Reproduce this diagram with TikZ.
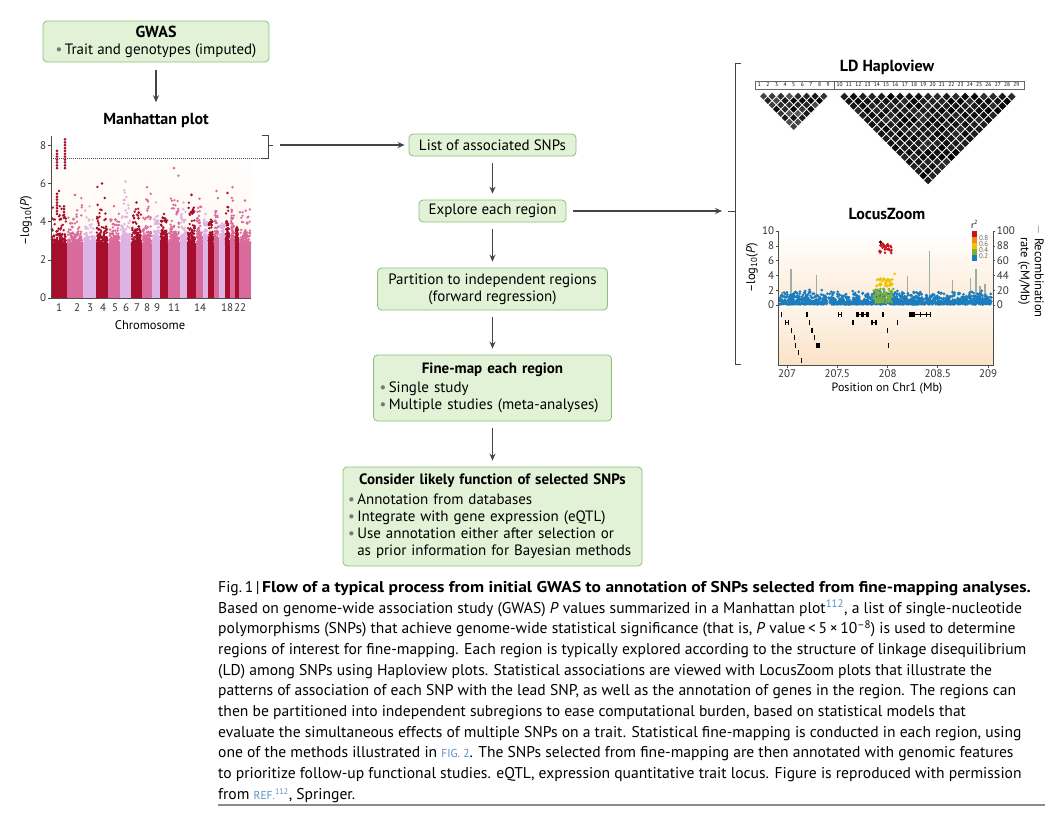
\documentclass[tikz,border=0pt]{standalone}
\usepackage{fontspec}
\setmainfont{PT Sans}
\newfontfamily\capbf{PT Sans}[BoldFeatures={FakeStretch=1.12}]
\usetikzlibrary{arrows.meta}
\definecolor{boxfill}{HTML}{E2F2D6}
\definecolor{boxline}{HTML}{8DBF7C}
\definecolor{arrgray}{HTML}{444444}
\definecolor{mdred}{HTML}{A50F2D}
\definecolor{mpink}{HTML}{D86B9C}
\definecolor{mlav}{HTML}{DDB3E6}
\definecolor{peach}{HTML}{FFF3E8}
\definecolor{lzpeach}{HTML}{FBE2C6}
\definecolor{lzblue}{HTML}{1A7DC0}
\definecolor{lzgreen}{HTML}{7BB031}
\definecolor{lzyellow}{HTML}{F2C200}
\definecolor{lzorange}{HTML}{F08A1C}
\definecolor{lzred}{HTML}{C8141E}
\definecolor{recgray}{HTML}{9AAFA8}
\definecolor{refblue}{HTML}{5B8FC4}
\definecolor{bulgray}{HTML}{777777}
\newcommand\bul{\textcolor{bulgray}{\textbullet}\,}
\tikzset{
  flowbox/.style={draw=boxline, fill=boxfill, rounded corners=4pt, line width=0.8pt,
    inner sep=3pt, font=\fontsize{15}{17}\selectfont},
  arr/.style={draw=arrgray, line width=1.4pt, -{Stealth[length=7pt,width=6pt]}},
  axlab/.style={font=\fontsize{11}{12}\selectfont, text=black!80, inner sep=1.5pt},
  ptitle/.style={font=\bfseries\fontsize{16}{18}\selectfont}
}
\begin{document}
\begin{tikzpicture}[x=1pt, y=-1pt]
  \useasboundingbox (0,0) rectangle (1055,817);
  \fill[white] (0,0) rectangle (1055,817);

  % flow chart
  \node[flowbox, minimum width=226pt, minimum height=41pt, align=center] (gwas) at (156,41.5)
    {{\bfseries\fontsize{16}{17}\selectfont GWAS}\\ \bul Trait and genotypes (imputed)};
  \node[ptitle] (mantitle) at (156,120) {Manhattan plot};
  \node[flowbox, minimum width=167pt, minimum height=22pt] (snps) at (492.5,145) {List of associated SNPs};
  \node[flowbox, minimum width=147pt, minimum height=22pt] (explore) at (492.5,211) {Explore each region};
  \node[flowbox, minimum width=230pt, minimum height=42pt, align=center] (partition) at (492.5,289)
    {Partition to independent regions\\(forward regression)};
  \node[flowbox, minimum width=238pt, minimum height=66pt, inner xsep=6pt, text width=226pt, align=left] (finemap) at (492.5,388)
    {\makebox[226pt]{\bfseries Fine-map each region}\\[2pt] \bul Single study\\ \bul Multiple studies (meta-analyses)};
  \node[flowbox, minimum width=299pt, minimum height=99pt, inner xsep=5pt, text width=289pt, align=left] (consider) at (492.5,516.5)
    {\makebox[289pt]{\bfseries Consider likely function of selected SNPs}\\[3pt]
     \bul Annotation from databases\\
     \bul Integrate with gene expression (eQTL)\\
     \bul Use annotation either after selection or\\
     \phantom{\bul}as prior information for Bayesian methods};

  \draw[arr, shorten <=8pt, shorten >=7pt] (gwas) -- (mantitle);
  \foreach \a/\b in {snps/explore, explore/partition, partition/finemap, finemap/consider}
    \draw[arr, shorten <=7pt, shorten >=6pt] (\a) -- (\b);

  % brackets
  \draw[arrgray, line width=1pt] (262,135) -- (268,135) -- (268,158) -- (262,158);
  \draw[arrgray, line width=1pt] (268,145) -- (273,145);
  \coordinate (manbr) at (273,145);
  \draw[arr, shorten <=7pt, shorten >=4pt] (manbr) -- (snps.west);
  \draw[arrgray, line width=1pt] (741,63) -- (735,63) -- (735,364) -- (741,364);
  \draw[arrgray, line width=1pt] (735,211) -- (728,211);
  \coordinate (lzbr) at (728,211);
  \draw[arr, shorten <=7pt, shorten >=6pt] (explore.east) -- (lzbr);

  % Manhattan plot
  \begin{scope}[shift={(0,298)}, y=19.1pt]
    \shade[top color=white, bottom color=peach] (51,0) rectangle (251,8);
    \pgfmathsetseed{11}
    \foreach \a/\b/\c/\p/\h in {51/67/mdred/5.6/4.1, 67/83/mpink/5.4/3.9, 83/96/mlav/4.8/3.6, 96/108/mdred/6.0/4.0,
        108/120/mpink/4.8/3.8, 120/131/mlav/6.1/4.2, 131/142/mdred/5.0/4.1, 142/152/mpink/5.8/4.1, 152/160/mlav/5.0/3.8,
        160/168/mdred/4.4/4.0, 168/180/mpink/6.8/4.2, 180/187/mlav/5.0/3.9, 187/196/mdred/5.4/4.3, 196/203/mpink/5.2/3.9,
        203/208/mlav/4.4/3.8, 208/214/mdred/4.1/3.8, 214/219/mpink/5.6/3.9, 219/225/mlav/3.9/3.7, 225/230/mdred/5.5/3.8,
        230/235/mpink/5.8/3.9, 235/239/mdred/3.7/3.5, 239/251/mpink/5.1/3.9} {
      \fill[\c] (\a,0) rectangle (\b,2.9);
      \foreach \k in {1,...,110} {
        \pgfmathsetmacro\xx{\a+0.9+rnd*(\b-\a-1.8)}
        \pgfmathsetmacro\yy{2.8+rnd*rnd*(\h-2.8)}
        \fill[\c] (\xx,\yy) circle (1.3pt);
      }
      \foreach \k in {1,...,14} {
        \pgfmathsetmacro\xx{\a+0.9+rnd*(\b-\a-1.8)}
        \pgfmathsetmacro\yy{\h+rnd*rnd*(\p-\h)}
        \fill[\c] (\xx,\yy) circle (1.3pt);
      }
      \fill[\c] ({(\a+\b)/2},\p) circle (1.4pt);
    }
    \foreach \yy in {6.8,6.95,...,7.75} \fill[mdred] (57,\yy) circle (1.5pt);
    \foreach \yy in {6.8,6.95,...,8.35} \fill[mdred] (65,\yy) circle (1.5pt);
    \foreach \yy in {4.4,4.55,...,5.6} \fill[mdred] (57,\yy) circle (1.5pt);
    \foreach \yy in {4.2,4.35,...,4.9} \fill[mdred] (64,\yy) circle (1.5pt);
    \draw[densely dotted, line width=1pt, black!70] (51,7.3) -- (263,7.3);
    \draw[black!70, line width=0.6pt] (51,8.5) -- (51,0) -- (251,0);
    \foreach \t in {0,2,...,8}
      \draw[black!70, line width=0.6pt] (51,\t) -- (48,\t) node[axlab, left] {\t};
  \end{scope}
  \foreach \x/\l in {59/1, 77/2, 90/3, 103/4, 115/5, 126/6, 137/7, 147/8, 157/9, 174/11, 200/14, 227/18, 240/22}
    \node[axlab] at (\x,308) {\l};
  \node[font=\fontsize{12.5}{13}\selectfont] at (150,325) {Chromosome};
  \node[font=\fontsize{12.5}{13}\selectfont, rotate=90] at (26,221) {–log\textsubscript{10}(\textit{P})};

  % LD Haploview
  \node[ptitle] at (887,67) {LD Haploview};
  \draw[black!60, line width=0.4pt] (755,81) rectangle (1024,89);
  \draw[black!60, line width=0.4pt] (834,81) -- (834,89);
  \foreach \k in {1,...,9}
    \node[font=\fontsize{5.5}{5.5}\selectfont, inner sep=0] at ({759.3+8.6*(\k-1)},85) {\k};
  \foreach \k in {10,...,29}
    \node[font=\fontsize{5.5}{5.5}\selectfont, inner sep=0] at ({839.65+9.3*(\k-10)},85) {\k};
  \foreach \i in {1,...,8} {
    \pgfmathtruncatemacro\js{\i+1}
    \foreach \j in {\js,...,9} {
      \pgfmathsetmacro\cx{759.3+8.6*((\i+\j)/2-1)}
      \pgfmathsetmacro\cy{92+(\j-\i)*4.3}
      \pgfmathtruncatemacro\sh{65+35*rnd}
      \filldraw[fill=black!\sh, draw=white, line width=0.7pt]
        (\cx,\cy-4.3) -- (\cx+4.3,\cy) -- (\cx,\cy+4.3) -- (\cx-4.3,\cy) -- cycle;
    }
  }
  \foreach \i in {1,...,19} {
    \pgfmathtruncatemacro\js{\i+1}
    \foreach \j in {\js,...,20} {
      \pgfmathsetmacro\cx{839.65+9.3*((\i+\j)/2-1)}
      \pgfmathsetmacro\cy{92+(\j-\i)*4.65}
      \pgfmathtruncatemacro\sh{82+18*rnd}
      \filldraw[fill=black!\sh, draw=white, line width=0.7pt]
        (\cx,\cy-4.65) -- (\cx+4.65,\cy) -- (\cx,\cy+4.65) -- (\cx-4.65,\cy) -- cycle;
    }
  }

  % LocusZoom
  \node[ptitle] at (887,214) {LocusZoom};
  \begin{scope}[shift={(787,305)}, x=100.5pt, y=7.4pt]
    \shade[top color=white, bottom color=lzpeach!70] (-0.09,0) rectangle (2.05,10);
    \shade[top color=lzpeach!35, bottom color=lzpeach] (-0.09,-0.3) rectangle (2.05,-8.1);
    \foreach \x/\h in {-0.05/1.8, 0.04/4.9, 0.29/4.0, 0.69/1.5, 1.18/1.3, 1.20/3.9, 1.42/7.3,
        1.65/3.4, 1.83/3.7, 1.88/4.9, 1.92/2.6, 1.97/2.9}
      \draw[recgray, line width=1.1pt] (\x,0) -- (\x,\h);
    \foreach \k in {1,...,1300} {
      \pgfmathsetmacro\xx{-0.075+rnd*2.11}
      \pgfmathsetmacro\yy{0.1+rnd*rnd*2.0}
      \fill[lzblue] (\xx,\yy) circle (1.5pt);
    }
    \foreach \k in {1,...,80} {
      \pgfmathsetmacro\xx{0.86+rnd*0.2}
      \pgfmathsetmacro\yy{0.3+rnd*1.9}
      \fill[lzgreen] (\xx,\yy) circle (1.4pt);
    }
    \foreach \k in {1,...,40} {
      \pgfmathsetmacro\xx{0.89+rnd*0.16}
      \pgfmathsetmacro\yy{2.5+rnd*1.1}
      \fill[lzyellow] (\xx,\yy) circle (1.4pt);
    }
    \fill[lzyellow] (1.07,4.2) circle (1.4pt);
    \foreach \k in {1,...,30} {
      \pgfmathsetmacro\xx{0.92+rnd*0.12}
      \pgfmathsetmacro\yy{7.0+rnd*1.4}
      \fill[lzred] (\xx,\yy) circle (1.4pt);
    }
    \fill[black!80!red] (0.93,8.5) circle (1.7pt);
    \draw[black!70, line width=0.6pt] (-0.09,10) -- (-0.09,-8.1) -- (2.05,-8.1) -- (2.05,10);
    \foreach \t in {0,2,...,10}
      \draw[black!70, line width=0.6pt] (-0.09,\t) -- (-0.11,\t) node[axlab, left] {\t};
    \foreach \t/\l in {0/0, 2/20, 4/44, 6/60, 8/88, 10/100}
      \draw[black!70, line width=0.6pt] (2.05,\t) -- (2.07,\t) node[axlab, right] {\l};
    \foreach \t/\l in {0/207, 0.5/207.5, 1/208, 1.5/208.5, 2/209}
      \draw[black!70, line width=0.6pt] (\t,-8.1) -- (\t,-8.5) node[axlab, below] {\l};
    % r2 legend
    \fill[lzblue] (1.84,6) rectangle (1.89,6.8);
    \fill[lzgreen] (1.84,6.8) rectangle (1.89,7.6);
    \fill[lzyellow] (1.84,7.6) rectangle (1.89,8.4);
    \fill[lzorange] (1.84,8.4) rectangle (1.89,9.2);
    \fill[lzred] (1.84,9.2) rectangle (1.89,10);
    \foreach \t/\l in {6.6/0.2, 7.4/0.4, 8.2/0.6, 9.0/0.8}
      \node[font=\fontsize{7}{7}\selectfont, text=black!60, anchor=west, inner sep=0] at (1.91,\t) {\l};
    \node[font=\fontsize{9}{9}\selectfont, inner sep=0] at (1.865,10.9) {r\textsuperscript{2}};
  \end{scope}
  % genes
  \foreach \a/\b/\y in {780.5/781.5/314, 806/808/314, 837.5/838.5/314, 840.5/841.5/314, 856/859/314,
      861/864/314, 866/869/314, 882/884/314, 909/915/314, 920/921/314, 925.5/926.5/314, 929.5/930.5/314,
      784.5/785.5/322, 787.5/788.5/322, 808.5/809.5/322, 852/854/322, 871/873/322, 875/877/322,
      896.5/897.5/322, 790.5/791.5/330, 810.5/812.5/330, 886.5/887.5/330, 793.5/794.5/337,
      813.5/815/337, 794.5/796/345, 816/819.5/345, 887.5/888.5/345, 797.5/799/352, 800.5/802/360}
    \fill (\a,\y-2.5) rectangle (\b,\y+2.5);
  \draw[line width=0.5pt] (837.5,314) -- (841.5,314) (856,314) -- (869,314) (909,314) -- (930.5,314)
    (784.5,322) -- (788.5,322) (871,322) -- (877,322);
  \node[font=\fontsize{12.5}{13}\selectfont, rotate=90] at (752,268) {–log\textsubscript{10}(\textit{P})};
  \node[font=\fontsize{12.5}{14}\selectfont, rotate=-90, align=center] at (1031,271)
    {\textcolor{recgray}{—} Recombination\\rate (cM/Mb)};
  \node[font=\fontsize{12}{13}\selectfont] at (887,389) {Position on Chr1 (Mb)};

  % caption
  \node[anchor=north west, align=left, inner sep=0, font=\fontsize{15.6}{20.7}\selectfont] (caption) at (218,581) {%
    Fig.\,1\,|\,{\capbf\bfseries Flow of a typical process from initial GWAS to annotation of SNPs selected from fine-mapping analyses.}\\
    Based on genome-wide association study (GWAS) \textit{P} values summarized in a Manhattan plot\textcolor{refblue}{\textsuperscript{112}}, a list of single-nucleotide\\
    polymorphisms (SNPs) that achieve genome-wide statistical significance (that is, \textit{P} value\,<\,5\,×\,10\textsuperscript{–8}) is used to determine\\
    regions of interest for fine-mapping. Each region is typically explored according to the structure of linkage disequilibrium\\
    (LD) among SNPs using Haploview plots. Statistical associations are viewed with LocusZoom plots that illustrate the\\
    patterns of association of each SNP with the lead SNP, as well as the annotation of genes in the region. The regions can\\
    then be partitioned into independent subregions to ease computational burden, based on statistical models that\\
    evaluate the simultaneous effects of multiple SNPs on a trait. Statistical fine-mapping is conducted in each region, using\\
    one of the methods illustrated in \textcolor{refblue}{\fontsize{11.5}{12}\selectfont FIG.~2}. The SNPs selected from fine-mapping are then annotated with genomic features\\
    to prioritize follow-up functional studies. eQTL, expression quantitative trait locus. Figure is reproduced with permission\\
    from \textcolor{refblue}{\fontsize{11.5}{12}\selectfont REF.\textsuperscript{112}}, Springer.};
  \draw[black!45, line width=2pt] (218,805) -- (1045,805);
\end{tikzpicture}
\end{document}
